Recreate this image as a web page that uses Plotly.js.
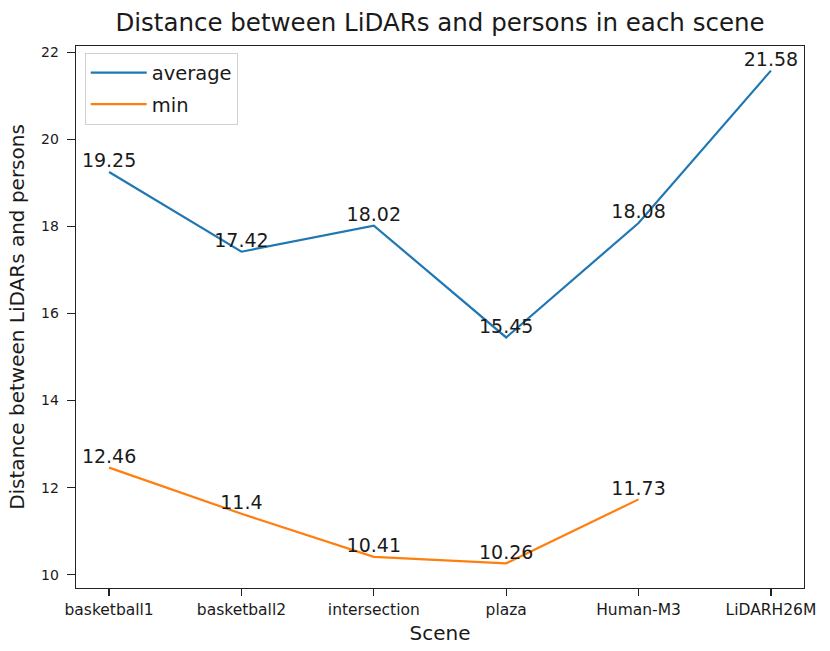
<!DOCTYPE html>
<html>
<head>
<meta charset="utf-8">
<script src="https://cdn.plot.ly/plotly-3.0.1.min.js"></script>
<style>html,body{margin:0;padding:0;background:#fff;}#chart{width:830px;height:651px;}</style>
</head>
<body>
<div id="chart"></div>
<script>
const scenes = ["basketball1", "basketball2", "intersection", "plaza", "Human-M3", "LiDARH26M"];
const averageValues = [19.25, 17.42, 18.02, 15.45, 18.08, 21.58];
const minValues = [12.46, 11.4, 10.41, 10.26, 11.73, null];
const yTicks = [10, 12, 14, 16, 18, 20, 22];

const FONT = "DejaVu Sans, Verdana, sans-serif";
const labelOf = v => (v === null ? "" : String(v));

const traces = [
  {
    x: scenes, y: averageValues, name: "average", legendgroup: "a", type: "scatter", mode: "lines+text",
    line: {color: "#1f77b4", width: 2.2},
    text: averageValues.map(labelOf), textposition: "top center",
    textfont: {family: FONT, size: 19, color: "#1a1a1a"},
    cliponaxis: false
  },
  {
    x: scenes, y: minValues, name: "min", legendgroup: "b", type: "scatter", mode: "lines+text",
    line: {color: "#ff7f0e", width: 2.2},
    text: minValues.map(labelOf), textposition: "top center",
    textfont: {family: FONT, size: 19, color: "#1a1a1a"},
    cliponaxis: false
  }
];

const layout = {
  width: 830, height: 651,
  margin: {l: 76, r: 26, t: 46, b: 63},
  paper_bgcolor: "#fff", plot_bgcolor: "#fff",
  font: {family: FONT, color: "#1a1a1a"},
  title: {text: "Distance between LiDARs and persons in each scene", font: {family: FONT, size: 24.5, color: "#1a1a1a"}, xref: "paper", x: 0.5, xanchor: "center", y: 0.966, yanchor: "middle"},
  showlegend: true,
  legend: {x: 0.012, y: 0.988, xanchor: "left", yanchor: "top", bgcolor: "rgba(255,255,255,0.85)", bordercolor: "#d0d0d0", borderwidth: 1, font: {family: FONT, size: 19.5, color: "#1a1a1a"}, tracegroupgap: 3, itemwidth: 56},
  xaxis: {
    type: "category", categoryorder: "array", categoryarray: scenes,
    range: [-0.25, 5.25],
    showgrid: false, zeroline: false,
    showline: true, linecolor: "#222", linewidth: 1.3, mirror: true,
    ticks: "outside", ticklen: 7, tickwidth: 1.3, tickcolor: "#222",
    tickfont: {family: FONT, size: 15.5, color: "#1a1a1a"},
    title: {text: "Scene", font: {family: FONT, size: 20, color: "#1a1a1a"}, standoff: 8}
  },
  yaxis: {
    range: [9.694, 22.146], tickvals: yTicks, ticktext: yTicks.map(String),
    showgrid: false, zeroline: false, automargin: true,
    showline: true, linecolor: "#222", linewidth: 1.3, mirror: true,
    ticks: "outside", ticklen: 8, tickwidth: 1.3, tickcolor: "#222", ticklabelstandoff: 5,
    tickfont: {family: FONT, size: 14, color: "#1a1a1a"},
    title: {text: "Distance between LiDARs and persons", font: {family: FONT, size: 20, color: "#1a1a1a"}, standoff: 11}
  }
};

Plotly.newPlot("chart", traces, layout, {displayModeBar: false, staticPlot: true});
</script>
</body>
</html>
